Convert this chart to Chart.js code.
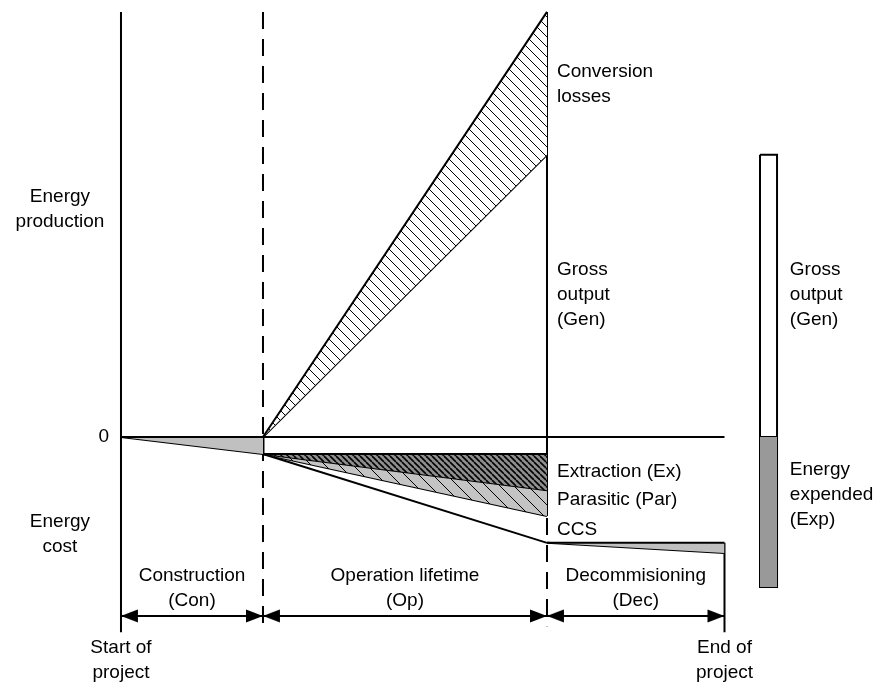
<!DOCTYPE html>
<html>
<head>
<meta charset="utf-8">
<script src="https://cdn.jsdelivr.net/npm/chart.js@4"></script>
<style>
  body { margin: 0; background: #fff; }
  #wrap { width: 878px; height: 684px; }
</style>
</head>
<body>
<div id="wrap"><canvas id="lifeChart"></canvas></div>
<script>
// project phases on the time axis (start, end of construction, end of operation, end of project)
const phaseBounds = [0, 1, 3, 4.25];
const phaseNames = [['Construction', '(Con)'], ['Operation lifetime', '(Op)'], ['Decommisioning', '(Dec)']];

// energy levels at the end of each phase
const conversionTop = 10;     // total energy before conversion losses
const grossOutput = 6.64;     // gross output (Gen)
const constructionCost = -0.4;
const extractionEnd = -1.25;
const parasiticEnd = -1.86;
const ccsEnd = -2.49;
const decomEnd = -2.73;

// frame of the sketch
const axisTop = 10;
const axisBottom = -4.59;
const dashBottom = -4.45;
const arrowY = -4.21;

// summary bar on the right
const barX = [4.5, 4.62];
const barGen = 6.64;
const barExp = -3.53;

// texts: lines, x, y (data), align, pixel offset
const labels = [
  { lines: ['Energy', 'production'], x: -0.43, y: 5.35, align: 'center', dx: 0 },
  { lines: ['0'], x: 0, y: 0, align: 'right', dx: -12 },
  { lines: ['Energy', 'cost'], x: -0.43, y: -2.28, align: 'center', dx: 0 },
  { lines: ['Conversion', 'losses'], x: 3, y: 8.3, align: 'left', dx: 10 },
  { lines: ['Gross', 'output', '(Gen)'], x: 3, y: 3.35, align: 'left', dx: 10 },
  { lines: ['Extraction (Ex)'], x: 3, y: -0.82, align: 'left', dx: 10 },
  { lines: ['Parasitic (Par)'], x: 3, y: -1.48, align: 'left', dx: 10 },
  { lines: ['CCS'], x: 3, y: -2.19, align: 'left', dx: 10 },
  { lines: ['Start of', 'project'], x: 0, y: -5.24, align: 'center', dx: 0 },
  { lines: ['End of', 'project'], x: 4.25, y: -5.24, align: 'center', dx: 0 },
  { lines: ['Gross', 'output', '(Gen)'], x: 4.71, y: 3.35, align: 'left', dx: 0 },
  { lines: ['Energy', 'expended', '(Exp)'], x: 4.71, y: -1.36, align: 'left', dx: 0 }
];
const phaseLabelY = -3.55;

function hatch(bg, step, width) {
  const c = document.createElement('canvas');
  c.width = step; c.height = step;
  const g = c.getContext('2d');
  g.fillStyle = bg;
  g.fillRect(0, 0, step, step);
  g.strokeStyle = '#000';
  g.lineWidth = width;
  g.beginPath();
  for (let k = -1; k <= 1; k++) {
    g.moveTo(k * step, 0);
    g.lineTo(k * step + step, step);
  }
  g.stroke();
  return g.createPattern(c, 'repeat');
}

// arrow head with its tip in the middle of the canvas
function arrowHead() {
  const c = document.createElement('canvas');
  c.width = 36; c.height = 14;
  const g = c.getContext('2d');
  g.fillStyle = '#000';
  g.beginPath();
  g.moveTo(18, 7);
  g.lineTo(1, 0.5);
  g.lineTo(1, 13.5);
  g.closePath();
  g.fill();
  return c;
}

const convPattern = hatch('#fff', 10, 1);
const extPattern = hatch('#8e8e8e', 6, 1.6);
const parPattern = hatch('#c4c4c4', 14, 1);
const arrow = arrowHead();

function seg(data, extra) {
  return Object.assign({ data: data, borderColor: '#000', borderWidth: 2, fill: false, pointRadius: 0 }, extra || {});
}
function pt(x, y) { return { x: x, y: y }; }

const [t0, t1, t2, t3] = phaseBounds;
const dash = [17, 10];

const datasets = [
  // construction wedge
  seg([pt(t0, 0), pt(t1, 0)], { fill: '+1', backgroundColor: '#c0c0c0' }),
  seg([pt(t0, 0), pt(t1, constructionCost)]),
  seg([pt(t1, 0), pt(t1, constructionCost)], { borderWidth: 3 }),
  // conversion losses
  seg([pt(t1, 0), pt(t2, conversionTop)], { fill: '+1', backgroundColor: convPattern }),
  seg([pt(t1, 0), pt(t2, grossOutput)]),
  // operation costs
  seg([pt(t1, constructionCost), pt(t2, constructionCost)], { fill: '+1', backgroundColor: extPattern }),
  seg([pt(t1, constructionCost), pt(t2, extractionEnd)], { fill: '+1', backgroundColor: parPattern }),
  seg([pt(t1, constructionCost), pt(t2, parasiticEnd)]),
  seg([pt(t1, constructionCost), pt(t2, ccsEnd)]),
  seg([pt(t2, constructionCost), pt(t2, parasiticEnd)]),
  // decommissioning
  seg([pt(t2, ccsEnd), pt(t3, ccsEnd)], { fill: '+1', backgroundColor: '#c0c0c0' }),
  seg([pt(t2, ccsEnd), pt(t3, decomEnd)]),
  // frame
  seg([pt(t0, 0), pt(t3, 0)]),
  seg([pt(t0, axisTop), pt(t0, axisBottom)]),
  seg([pt(t1, axisTop), pt(t1, dashBottom)], { borderDash: dash }),
  seg([pt(t2, axisTop), pt(t2, 0)]),
  seg([pt(t2, 0), pt(t2, dashBottom)], { borderDash: dash }),
  seg([pt(t3, ccsEnd), pt(t3, axisBottom)]),
  // summary bar
  seg([pt(barX[0], barExp), pt(barX[1], barExp)], { fill: 'origin', backgroundColor: '#999', borderWidth: 0 }),
  seg([pt(barX[0], barGen), pt(barX[1], barGen), pt(barX[1], barExp), pt(barX[0], barExp), pt(barX[0], barGen)]),
  seg([pt(barX[0], 0), pt(barX[1], 0)])
];

// phase arrows
for (let i = 0; i < 3; i++) {
  datasets.push(seg([pt(phaseBounds[i], arrowY), pt(phaseBounds[i + 1], arrowY)], {
    pointRadius: 5, pointStyle: arrow, pointRotation: [180, 0]
  }));
}

const textPlugin = {
  id: 'sketchText',
  afterDraw(chart) {
    const { ctx, scales: { x, y } } = chart;
    const lh = 25;
    ctx.save();
    ctx.fillStyle = '#000';
    ctx.font = '19px "Liberation Sans", Arial, sans-serif';
    ctx.textBaseline = 'middle';
    const put = (lines, px, py, align) => {
      ctx.textAlign = align;
      const top = py - (lines.length - 1) * lh / 2;
      lines.forEach((s, i) => ctx.fillText(s, px, top + i * lh));
    };
    labels.forEach(l => put(l.lines, x.getPixelForValue(l.x) + l.dx, y.getPixelForValue(l.y), l.align));
    phaseNames.forEach((n, i) => {
      const mid = (phaseBounds[i] + phaseBounds[i + 1]) / 2;
      put(n, x.getPixelForValue(mid), y.getPixelForValue(phaseLabelY), 'center');
    });
    ctx.restore();
  }
};

new Chart(document.getElementById('lifeChart'), {
  type: 'line',
  data: { datasets: datasets },
  options: {
    responsive: true,
    maintainAspectRatio: false,
    animation: false,
    events: [],
    layout: { padding: 0, autoPadding: false },
    elements: { line: { tension: 0 }, point: { radius: 0 } },
    plugins: { legend: { display: false }, tooltip: { enabled: false } },
    scales: {
      x: { type: 'linear', display: false, min: -0.852, max: 5.331 },
      y: { type: 'linear', display: false, min: -5.81, max: 10.28 }
    }
  },
  plugins: [textPlugin]
});
</script>
</body>
</html>
